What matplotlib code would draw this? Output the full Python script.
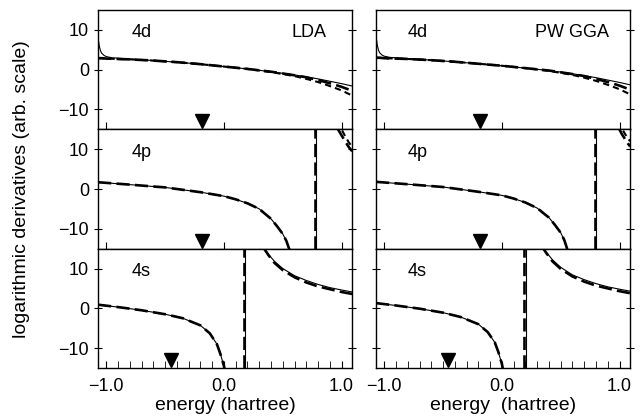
import matplotlib.pyplot as plt
from matplotlib.ticker import MultipleLocator

plt.rcParams['font.family'] = ['Liberation Sans', 'DejaVu Sans']
plt.rcParams['axes.linewidth'] = 1.0

# ---- 4d channel (energy in hartree) ----
e_4d = [-1.07, -1.06, -1.05, -1.04, -1.02, -1.0, -0.95, -0.9, -0.8, -0.6, -0.4,
        -0.2, 0.0, 0.2, 0.4, 0.6, 0.7, 0.8, 0.9, 1.0, 1.09]
lda_4d_ae = [8.0, 6.0, 4.8, 4.2, 3.6, 3.3, 3.0, 2.9, 2.7, 2.3, 1.9,
             1.4, 0.8, 0.2, -0.5, -1.3, -1.8, -2.3, -2.9, -3.5, -4.1]
lda_4d_ps1 = [2.9, 2.9, 2.9, 2.9, 2.85, 2.8, 2.75, 2.7, 2.6, 2.3, 1.9,
              1.4, 0.8, 0.2, -0.5, -1.4, -1.9, -2.6, -3.4, -4.3, -5.3]
lda_4d_ps2 = [2.9, 2.9, 2.9, 2.9, 2.85, 2.8, 2.75, 2.7, 2.6, 2.3, 1.9,
              1.4, 0.8, 0.2, -0.6, -1.6, -2.3, -3.1, -4.1, -5.2, -6.5]
gga_4d_ae = [8.5, 6.3, 5.0, 4.3, 3.7, 3.4, 3.1, 3.0, 2.8, 2.4, 2.0,
             1.5, 1.0, 0.4, -0.2, -1.0, -1.5, -2.0, -2.6, -3.2, -3.8]
gga_4d_ps1 = [3.0, 3.0, 3.0, 3.0, 2.95, 2.9, 2.85, 2.8, 2.7, 2.4, 2.0,
              1.5, 1.0, 0.4, -0.2, -1.1, -1.6, -2.3, -3.1, -4.0, -5.0]
gga_4d_ps2 = [3.0, 3.0, 3.0, 3.0, 2.95, 2.9, 2.85, 2.8, 2.7, 2.4, 2.0,
              1.5, 1.0, 0.4, -0.3, -1.3, -2.0, -2.8, -3.8, -4.9, -6.2]

# ---- 4p channel ----
e_4p = [-1.07, -0.8, -0.5, -0.2, 0.0, 0.1, 0.2, 0.3, 0.4, 0.45, 0.5, 0.53, 0.56]
lda_4p = [1.7, 1.1, 0.4, -0.8, -1.8, -2.6, -3.6, -5.0, -7.5, -9.3, -11.3, -13.0, -15.5]
gga_4p = [1.8, 1.2, 0.5, -0.7, -1.6, -2.4, -3.4, -4.8, -7.2, -9.0, -11.0, -12.8, -15.5]
pole_4p = [0.77, 0.79]          # LDA, PW GGA
e_4p_hi = [0.96, 1.0, 1.03, 1.06, 1.09]
lda_4p_hi1 = [15.5, 13.5, 12.0, 10.6, 9.5]
lda_4p_hi2 = [17.0, 15.0, 13.3, 11.8, 10.6]
e_4p_hi_gga = [0.99, 1.02, 1.05, 1.07, 1.09]
gga_4p_hi1 = [15.5, 13.8, 12.4, 11.5, 10.7]
gga_4p_hi2 = [17.0, 15.2, 13.7, 12.8, 12.0]

# ---- 4s channel ----
e_4s = [-1.07, -0.9, -0.7, -0.5, -0.35, -0.2, -0.12, -0.06, -0.03, 0.0, 0.01]
lda_4s = [0.9, 0.3, -0.5, -1.5, -2.5, -4.3, -6.3, -9.0, -11.5, -14.5, -16.0]
gga_4s = [1.3, 0.7, -0.1, -1.1, -2.2, -4.0, -6.0, -8.6, -11.0, -14.0, -15.5]
pole_4s = [0.17, 0.19]
e_4s_hi = [0.33, 0.38, 0.43, 0.5, 0.6, 0.7, 0.8, 0.9, 1.0, 1.09]
lda_4s_hi_ae = [15.5, 13.5, 11.8, 10.0, 8.2, 7.0, 6.0, 5.2, 4.6, 4.1]
lda_4s_hi_ps = [15.5, 13.3, 11.4, 9.6, 7.8, 6.5, 5.5, 4.8, 4.1, 3.6]
gga_4s_hi_ae = [16.0, 14.0, 12.2, 10.3, 8.4, 7.2, 6.2, 5.4, 4.8, 4.3]
gga_4s_hi_ps = [16.0, 13.8, 11.8, 9.9, 8.0, 6.7, 5.7, 5.0, 4.3, 3.8]

# reference energies (triangles)
eps_4d = [-0.19, -0.19]
eps_4p = [-0.19, -0.19]
eps_4s = [-0.45, -0.46]

states = ['4d', '4p', '4s']
functionals = ['LDA', 'PW GGA']

solid = dict(color='black', lw=0.8)
dash1 = dict(color='black', lw=1.9, dashes=(5, 2))
dash2 = dict(color='black', lw=1.5, dashes=(3, 2))

fig, axes = plt.subplots(3, 2, figsize=(6.41, 4.20), dpi=100)
fig.subplots_adjust(left=0.153, right=0.983, top=0.976, bottom=0.124,
                    hspace=0, wspace=0.094)

for col in range(2):
    # 4d
    ax = axes[0, col]
    ae, p1, p2 = [(lda_4d_ae, lda_4d_ps1, lda_4d_ps2),
                  (gga_4d_ae, gga_4d_ps1, gga_4d_ps2)][col]
    ax.plot(e_4d, ae, **solid)
    ax.plot(e_4d, p1, **dash1)
    ax.plot(e_4d, p2, **dash2)
    ax.plot(eps_4d[col], -13.0, 'v', color='black', ms=10, clip_on=False)
    ax.text([0.72, 0.60][col], 9.3, functionals[col], fontsize=13,
            ha='center', va='center')

    # 4p
    ax = axes[1, col]
    y4p = [lda_4p, gga_4p][col]
    ax.plot(e_4p, y4p, **solid)
    ax.plot(e_4p, y4p, **dash1)
    ax.axvline(pole_4p[col], **dash1)
    ax.axvline(pole_4p[col] + 0.012, **solid)
    if col == 0:
        ax.plot(e_4p_hi, lda_4p_hi1, **dash1)
        ax.plot(e_4p_hi, lda_4p_hi2, **dash2)
    else:
        ax.plot(e_4p_hi_gga, gga_4p_hi1, **dash1)
        ax.plot(e_4p_hi_gga, gga_4p_hi2, **dash2)
    ax.plot(eps_4p[col], -13.0, 'v', color='black', ms=10, clip_on=False)

    # 4s
    ax = axes[2, col]
    y4s = [lda_4s, gga_4s][col]
    ax.plot(e_4s, y4s, **solid)
    ax.plot(e_4s, y4s, **dash1)
    ax.axvline(pole_4s[col], **dash1)
    ax.axvline(pole_4s[col] + 0.012, **solid)
    ae, ps = [(lda_4s_hi_ae, lda_4s_hi_ps), (gga_4s_hi_ae, gga_4s_hi_ps)][col]
    ax.plot(e_4s_hi, ae, **solid)
    ax.plot(e_4s_hi, ps, **dash1)
    ax.plot(eps_4s[col], -13.0, 'v', color='black', ms=10, clip_on=False)

    for row in range(3):
        ax = axes[row, col]
        ax.set_xlim(-1.07, 1.09)
        ax.set_ylim(-15, 15)
        ax.set_yticks([-10, 0, 10])
        ax.set_yticklabels(['\u221210', '0', '10'])
        ax.tick_params(axis='y', direction='inout', length=6, left=True,
                       right=True, labelleft=(col == 0), labelsize=13)
        ax.set_xticks([-1.0, 0.0, 1.0])
        ax.tick_params(axis='x', direction='in', length=5, top=False,
                       labelbottom=(row == 2), labelsize=13, pad=7)
        ax.text([-0.70, -0.72][col], 9.3, states[row], fontsize=13,
                ha='center', va='center')
        if row == 2:
            ax.set_xticklabels(['\u22121.0', '0.0', '1.0'])
            ax.xaxis.set_minor_locator(MultipleLocator(0.1))
            ax.tick_params(axis='x', which='minor', direction='in', length=5)

axes[2, 0].set_xlabel('energy (hartree)', fontsize=14, labelpad=2)
axes[2, 1].set_xlabel('energy  (hartree)', fontsize=14, labelpad=2)
fig.text(0.034, 0.55, 'logarithmic derivatives (arb. scale)', rotation=90,
         ha='center', va='center', fontsize=14)

plt.savefig('out.png', dpi=100)
